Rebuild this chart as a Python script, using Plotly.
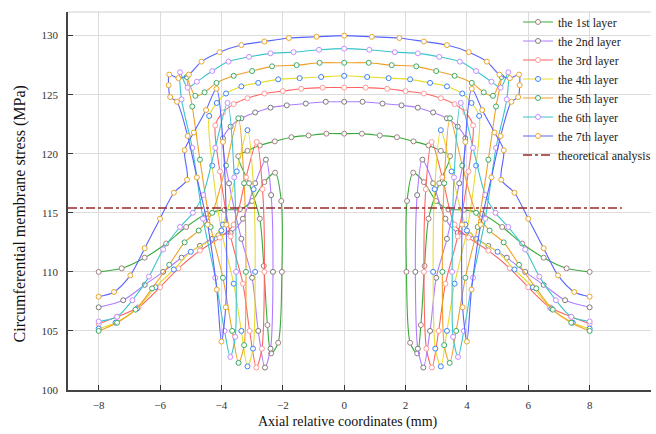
import plotly.graph_objects as go

# ---------------- data ----------------
x1 = [-8.0, -7.25, -6.5, -5.8, -5.15, -4.5, -3.9, -3.4, -3.0, -2.6, -2.25, -2.05, -2.03, -2.15, -2.38, -2.5, -2.62, -2.75, -3.1, -3.45, -3.15, -2.75, -2.26, -1.72, -1.16, -0.58,
      0.0,
      0.58, 1.16, 1.72, 2.26, 2.75, 3.15, 3.45, 3.1, 2.75, 2.62, 2.5, 2.38, 2.15, 2.03, 2.05, 2.25, 2.6, 3.0, 3.4, 3.9, 4.5, 5.15, 5.8, 6.5, 7.25, 8.0]
y1 = [110.0, 110.3, 111.2, 112.4, 113.8, 114.9, 115.25, 115.3, 116.0, 117.6, 118.4, 116.0, 110.0, 104.0, 103.1, 105.5, 110.5, 114.5, 117.5, 119.8, 120.25, 120.7, 121.05, 121.4, 121.55, 121.7,
      121.7,
      121.7, 121.55, 121.4, 121.05, 120.7, 120.25, 119.8, 117.5, 114.5, 110.5, 105.5, 103.1, 104.0, 110.0, 116.0, 118.4, 117.6, 116.0, 115.3, 115.25, 114.9, 113.8, 112.4, 111.2, 110.3, 110.0]

x2 = [-8.0, -7.2, -6.5, -5.9, -5.3, -4.7, -4.1, -3.7, -3.3, -2.9, -2.55, -2.38, -2.32, -2.4, -2.58, -2.8, -3.0, -3.35, -3.75, -3.95, -3.7, -3.35, -2.9, -2.4, -1.87, -1.25, -0.6,
      0.0,
      0.6, 1.25, 1.87, 2.4, 2.9, 3.35, 3.7, 3.95, 3.75, 3.35, 3.0, 2.8, 2.58, 2.4, 2.32, 2.38, 2.55, 2.9, 3.3, 3.7, 4.1, 4.7, 5.3, 5.9, 6.5, 7.2, 8.0]
y2 = [107.0, 107.6, 108.9, 110.0, 111.2, 112.2, 113.1, 113.3, 114.5, 117.5, 119.5, 116.5, 110.0, 103.5, 101.9, 105.0, 109.5, 112.8, 117.5, 121.3, 122.3, 123.0, 123.5, 123.9, 124.1, 124.25, 124.4,
      124.4,
      124.4, 124.25, 124.1, 123.9, 123.5, 123.0, 122.3, 121.3, 117.5, 112.8, 109.5, 105.0, 101.9, 103.5, 110.0, 116.5, 119.5, 117.5, 114.5, 113.3, 113.1, 112.2, 111.2, 110.0, 108.9, 107.6, 107.0]

x3 = [-8.0, -7.4, -6.7, -6.0, -5.4, -4.7, -4.05, -3.6, -3.2, -2.85, -2.66, -2.6, -2.68, -2.86, -3.08, -3.3, -3.7, -4.05, -4.2, -3.95, -3.6, -3.15, -2.6, -2.0, -1.4, -0.7,
      0.0,
      0.7, 1.4, 2.0, 2.6, 3.15, 3.6, 3.95, 4.2, 4.05, 3.7, 3.3, 3.08, 2.86, 2.68, 2.6, 2.66, 2.85, 3.2, 3.6, 4.05, 4.7, 5.4, 6.0, 6.7, 7.4, 8.0]
y3 = [105.6, 106.2, 107.0, 108.7, 110.3, 111.8, 112.9, 114.0, 118.0, 121.0, 117.0, 110.0, 103.5, 101.9, 105.0, 109.0, 113.0, 118.5, 122.4, 123.5, 124.2, 124.7, 125.1, 125.3, 125.5, 125.6,
      125.6,
      125.6, 125.5, 125.3, 125.1, 124.7, 124.2, 123.5, 122.4, 118.5, 113.0, 109.0, 105.0, 101.9, 103.5, 110.0, 117.0, 121.0, 118.0, 114.0, 112.9, 111.8, 110.3, 108.7, 107.0, 106.2, 105.6]

x4 = [-8.0, -7.45, -6.75, -6.15, -5.55, -5.0, -4.3, -3.95, -3.5, -3.15, -2.95, -2.9, -2.97, -3.15, -3.35, -3.6, -4.0, -4.3, -4.4, -4.15, -3.85, -3.35, -2.8, -2.15, -1.45, -0.75,
      0.0,
      0.75, 1.45, 2.15, 2.8, 3.35, 3.85, 4.15, 4.4, 4.3, 4.0, 3.6, 3.35, 3.15, 2.97, 2.9, 2.95, 3.15, 3.5, 3.95, 4.3, 5.0, 5.55, 6.15, 6.75, 7.45, 8.0]
y4 = [105.2, 105.7, 106.9, 108.7, 110.2, 111.7, 112.8, 114.0, 118.5, 122.0, 117.0, 110.0, 103.5, 102.0, 105.0, 109.0, 113.5, 119.0, 123.2, 124.3, 125.1, 125.7, 126.0, 126.3, 126.4, 126.5,
      126.6,
      126.5, 126.4, 126.3, 126.0, 125.7, 125.1, 124.3, 123.2, 119.0, 113.5, 109.0, 105.0, 102.0, 103.5, 110.0, 117.0, 122.0, 118.5, 114.0, 112.8, 111.7, 110.2, 108.7, 106.9, 105.7, 105.2]

x5 = [-8.0, -7.4, -6.8, -6.26, -5.7, -5.2, -4.74, -4.3, -3.85, -3.45, -3.26, -3.2, -3.26, -3.44, -3.65, -3.95, -4.35, -4.7, -4.95, -5.13, -4.85, -4.55, -4.16, -3.6, -3.0, -2.35, -1.55, -0.8,
      0.0,
      0.8, 1.55, 2.35, 3.0, 3.6, 4.16, 4.55, 4.85, 5.13, 4.95, 4.7, 4.35, 3.95, 3.65, 3.44, 3.26, 3.2, 3.26, 3.45, 3.85, 4.3, 4.74, 5.2, 5.7, 6.26, 6.8, 7.4, 8.0]
y5 = [105.0, 105.7, 106.8, 108.6, 110.6, 112.5, 113.5, 115.0, 119.0, 123.0, 117.5, 110.0, 103.8, 102.3, 105.0, 109.5, 113.8, 119.5, 124.0, 126.5, 124.9, 125.2, 126.0, 126.6, 127.0, 127.4, 127.5, 127.7,
      127.7,
      127.7, 127.5, 127.4, 127.0, 126.6, 126.0, 125.2, 124.9, 126.5, 124.0, 119.5, 113.8, 109.5, 105.0, 102.3, 103.8, 110.0, 117.5, 123.0, 119.0, 115.0, 113.5, 112.5, 110.6, 108.6, 106.8, 105.7, 105.0]

x6 = [-8.0, -7.4, -6.9, -6.36, -5.9, -5.35, -4.93, -4.6, -4.2, -3.8, -3.58, -3.52, -3.55, -3.71, -3.9, -4.2, -4.6, -4.95, -5.3, -5.35, -5.1, -4.8, -4.3, -3.77, -3.1, -2.4, -1.65, -0.82,
      0.0,
      0.82, 1.65, 2.4, 3.1, 3.77, 4.3, 4.8, 5.1, 5.35, 5.3, 4.95, 4.6, 4.2, 3.9, 3.71, 3.55, 3.52, 3.58, 3.8, 4.2, 4.6, 4.93, 5.35, 5.9, 6.36, 6.9, 7.4, 8.0]
y6 = [105.8, 106.2, 107.6, 109.6, 111.9, 113.8, 115.0, 116.5, 120.5, 124.3, 118.0, 110.0, 104.5, 102.8, 105.0, 109.5, 114.5, 120.5, 124.6, 126.9, 125.6, 126.1, 127.0, 127.8, 128.2, 128.5, 128.6, 128.8,
      128.9,
      128.8, 128.6, 128.5, 128.2, 127.8, 127.0, 126.1, 125.6, 126.9, 124.6, 120.5, 114.5, 109.5, 105.0, 102.8, 104.5, 110.0, 118.0, 124.3, 120.5, 116.5, 115.0, 113.8, 111.9, 109.6, 107.6, 106.2, 105.8]

x7 = [-8.0, -7.5, -6.97, -6.5, -6.0, -5.55, -5.12, -5.2, -4.9, -4.5, -4.16, -3.95, -3.84, -3.86, -4.0, -4.15, -4.45, -4.8, -5.1, -5.45, -5.67, -5.72, -5.7, -5.4, -5.06, -4.65, -4.06, -3.35, -2.6, -1.8, -0.9,
      0.0,
      0.9, 1.8, 2.6, 3.35, 4.06, 4.65, 5.06, 5.4, 5.7, 5.72, 5.67, 5.45, 5.1, 4.8, 4.45, 4.15, 4.0, 3.86, 3.84, 3.95, 4.16, 4.5, 4.9, 5.2, 5.12, 5.55, 6.0, 6.5, 6.97, 7.5, 8.0]
y7 = [107.9, 108.3, 109.7, 112.0, 114.5, 116.7, 117.8, 120.3, 121.8, 123.7, 125.5, 121.0, 114.0, 107.0, 104.1, 108.5, 114.0, 118.0, 121.5, 124.4, 124.8, 125.8, 126.7, 126.4, 126.7, 127.8, 128.6, 129.2, 129.5, 129.8, 129.9,
      130.0,
      129.9, 129.8, 129.5, 129.2, 128.6, 127.8, 126.7, 126.4, 126.7, 125.8, 124.8, 124.4, 121.5, 118.0, 114.0, 108.5, 104.1, 107.0, 114.0, 121.0, 125.5, 123.7, 121.8, 120.3, 117.8, 116.7, 114.5, 112.0, 109.7, 108.3, 107.9]

theory_x = [-9.0, 9.05]
theory_y = [115.4, 115.4]

layer_names = ["the 1st layer", "the 2nd layer", "the 3rd layer", "the 4th layer",
               "the 5th layer", "the 6th layer", "the 7th layer"]
xs = [x1, x2, x3, x4, x5, x6, x7]
ys = [y1, y2, y3, y4, y5, y6, y7]

line_colors = ["#3aaa3a", "#b07cff", "#ff6464", "#e6dc2e", "#f0a028", "#3cc4cc", "#5864ff"]
marker_colors = ["#a08282", "#7a7a7a", "#ff9a9a", "#3c82ff", "#3caa64", "#c88cff", "#eaa628"]

fig = go.Figure()
for name, xv, yv, lc, mc in zip(layer_names, xs, ys, line_colors, marker_colors):
    assert len(xv) == len(yv), name
    fig.add_trace(go.Scatter(
        x=xv, y=yv, name=name, mode="lines+markers",
        line=dict(color=lc, width=1.1, shape="spline", smoothing=0.8),
        marker=dict(symbol="circle", size=5, color="white", line=dict(color=mc, width=1)),
    ))

fig.add_trace(go.Scatter(
    x=theory_x, y=theory_y, name="theoretical analysis", mode="lines",
    line=dict(color="#9b2a2a", width=1.5, dash="dashdot"),
))

serif = "Liberation Serif"
fig.update_layout(
    width=656, height=434,
    margin=dict(l=68, r=0, t=12, b=44),
    paper_bgcolor="white", plot_bgcolor="white",
    font=dict(family=serif, size=12, color="#222"),
    showlegend=True,
    legend=dict(x=0.772, y=1.012, xanchor="left", yanchor="top",
                bgcolor="rgba(0,0,0,0)", borderwidth=0,
                font=dict(family=serif, size=12, color="#222"),
                tracegroupgap=0),
    xaxis=dict(range=[-9, 10], dtick=2, tick0=0, showgrid=True, gridcolor="#dcdcdc", gridwidth=1,
               zeroline=False, showline=True, linecolor="#444", linewidth=1.5, automargin=False,
               ticks="inside", ticklen=5, tickcolor="#333", ticklabelstandoff=4,
               tickfont=dict(family=serif, size=11, color="#333")),
    yaxis=dict(range=[100, 132], dtick=5, tick0=100, showgrid=True, gridcolor="#dcdcdc", gridwidth=1,
               zeroline=False, showline=True, linecolor="#444", linewidth=1.5, automargin=False,
               ticks="inside", ticklen=5, tickcolor="#333", ticklabelstandoff=6,
               tickfont=dict(family=serif, size=11, color="#333")),
    shapes=[dict(type="line", xref="paper", yref="paper", x0=0, x1=1, y0=1, y1=1,
                 line=dict(color="#d0d0d0", width=1))],
    annotations=[
        dict(text="Axial relative coordinates (mm)", xref="paper", yref="paper",
             x=0.481, y=-0.0847, xanchor="center", yanchor="middle", showarrow=False,
             font=dict(family=serif, size=14, color="#111")),
        dict(text="Circumferential membrane stress (MPa)", xref="paper", yref="paper",
             x=-0.0816, y=0.4656, xanchor="center", yanchor="middle", showarrow=False,
             textangle=-90, font=dict(family=serif, size=16, color="#111")),
    ],
)

fig.write_html("out.html")
